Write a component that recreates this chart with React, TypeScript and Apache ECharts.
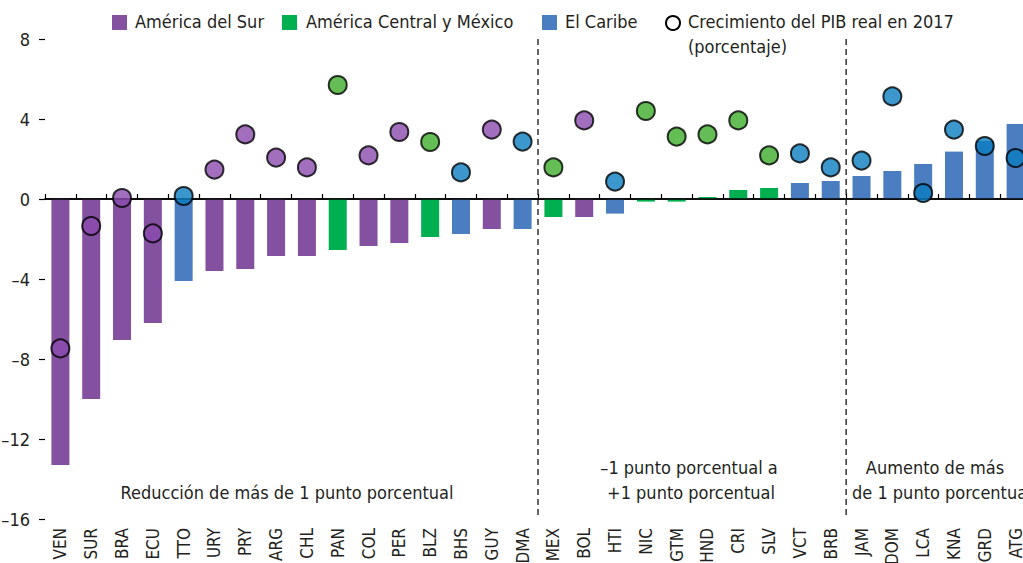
import React, { useEffect, useRef } from "react";
import * as echarts from "echarts";

const categories = ["VEN","SUR","BRA","ECU","TTO","URY","PRY","ARG","CHL","PAN","COL","PER","BLZ","BHS","GUY","DMA","MEX","BOL","HTI","NIC","GTM","HND","CRI","SLV","VCT","BRB","JAM","DOM","LCA","KNA","GRD","ATG"];
// region: S = América del Sur, C = América Central y México, K = El Caribe
const regions = ["S","S","S","S","K","S","S","S","S","C","S","S","C","K","S","K","C","S","K","C","C","C","C","C","K","K","K","K","K","K","K","K"];
const changeValues = [-13.3,-10.0,-7.05,-6.2,-4.1,-3.6,-3.5,-2.85,-2.85,-2.55,-2.35,-2.2,-1.9,-1.75,-1.5,-1.5,-0.9,-0.9,-0.73,-0.13,-0.13,0.1,0.45,0.55,0.8,0.9,1.15,1.4,1.75,2.37,2.9,3.75];
const growth2017 = [-7.47,-1.35,0.05,-1.72,0.15,1.47,3.23,2.07,1.58,5.7,2.18,3.35,2.85,1.33,3.47,2.87,1.58,3.93,0.87,4.4,3.12,3.23,3.93,2.18,2.28,1.58,1.92,5.13,0.3,3.47,2.65,2.05];
const yTicks = [-16, -12, -8, -4, 0, 4, 8];
const legendNames = ["América del Sur", "América Central y México", "El Caribe", "Crecimiento del PIB real en 2017", "(porcentaje)"];
const sectionLabels = ["Reducción de más de 1 punto porcentual", "\u20131 punto porcentual a", "+1 punto porcentual", "Aumento de más", "de 1 punto porcentual"];

const barColors: Record<string, string> = { S: "#8450A0", C: "#00B050", K: "#4A7EC1" };
const dotColors: Record<string, string> = { S: "#8B4BAF", C: "#3DAE2B", K: "#0A7DBF" };
const FONT = "'Liberation Sans Narrow', 'DejaVu Sans Condensed', 'Roboto Condensed', 'Arial Narrow', sans-serif";
const TXT = "#231F20";

export default function App() {
  const ref = useRef<HTMLDivElement>(null);
  useEffect(() => {
    if (!ref.current) return;
    const chart = echarts.init(ref.current, null, { renderer: "svg" });
    const option: any = {
      animation: false,
      textStyle: { fontFamily: FONT, color: TXT },
      grid: { left: 45, right: -8, top: 39, bottom: 44, containLabel: false, outerBoundsMode: "none" },
      xAxis: {
        type: "category",
        data: categories,
        boundaryGap: true,
        axisLine: { show: true, lineStyle: { color: "#000", width: 1.5 } },
        axisTick: { show: true, inside: true, length: 5, interval: 0, lineStyle: { color: "#000", width: 1.2 } },
        axisLabel: { rotate: 90, interval: 0, margin: 9, fontSize: 17, color: TXT, fontFamily: FONT },
        splitLine: { show: false },
      },
      yAxis: {
        type: "value",
        min: -16,
        max: 8,
        interval: 4,
        axisLine: { show: false },
        axisTick: { show: true, length: 6, lineStyle: { color: "#000", width: 1.2 } },
        axisLabel: {
          margin: 15,
          fontSize: 18,
          color: TXT,
          fontFamily: FONT,
          formatter: (v: number) => (yTicks.includes(v) ? (v < 0 ? "\u2013" + Math.abs(v) : String(v)) : ""),
        },
        splitLine: { show: false },
      },
      series: [
        {
          type: "bar",
          name: "Cambio",
          barWidth: 18,
          data: changeValues.map((v, i) => ({ value: v, itemStyle: { color: barColors[regions[i]] } })),
          markLine: {
            silent: true,
            symbol: "none",
            label: { show: false },
            lineStyle: { color: "#000", width: 1.5, type: "solid" },
            data: [{ yAxis: 0 }],
            z: 3,
          },
          z: 2,
        },
        {
          type: "scatter",
          name: legendNames[3],
          symbol: "circle",
          symbolSize: 18,
          data: growth2017.map((v, i) => ({
            value: v,
            itemStyle: { color: dotColors[regions[i]], borderColor: "#000", borderWidth: 2 },
          })),
          z: 5,
        },
      ],
    };
    chart.setOption(option);

    const boundaryX = (i: number) => {
      const a = chart.convertToPixel({ xAxisIndex: 0 }, categories[i - 1]) as number;
      const b = chart.convertToPixel({ xAxisIndex: 0 }, categories[i]) as number;
      return (a + b) / 2;
    };
    const yTop = chart.convertToPixel({ yAxisIndex: 0 }, 8) as number;
    const yBot = chart.convertToPixel({ yAxisIndex: 0 }, -16) as number;
    const x1 = boundaryX(16);
    const x2 = boundaryX(26);

    const legendText = (x: number, y: number, t: string) => ({
      type: "text", left: x, top: y,
      style: { text: t, fontSize: 18, fontFamily: FONT, fill: TXT },
    });
    const secText = (x: number, y: number, t: string, align: string) => ({
      type: "text", x, y,
      style: { text: t, fontSize: 18, fontFamily: FONT, fill: TXT, align, verticalAlign: "middle" },
    });

    chart.setOption({
      graphic: [
        { type: "line", shape: { x1, y1: yTop, x2: x1, y2: yBot }, style: { stroke: "#000", lineWidth: 1.2, lineDash: [6, 4] }, z: 1 },
        { type: "line", shape: { x1: x2, y1: yTop, x2, y2: yBot }, style: { stroke: "#000", lineWidth: 1.2, lineDash: [6, 4] }, z: 1 },
        { type: "rect", shape: { x: 112, y: 15, width: 15, height: 15 }, style: { fill: barColors.S } },
        legendText(135, 12, legendNames[0]),
        { type: "rect", shape: { x: 282, y: 15, width: 15, height: 15 }, style: { fill: barColors.C } },
        legendText(306, 12, legendNames[1]),
        { type: "rect", shape: { x: 542, y: 15, width: 15, height: 15 }, style: { fill: barColors.K } },
        legendText(565, 12, legendNames[2]),
        { type: "circle", shape: { cx: 673, cy: 23, r: 7 }, style: { fill: "#fff", stroke: "#000", lineWidth: 2 } },
        legendText(688, 12, legendNames[3]),
        legendText(688, 37, legendNames[4]),
        secText(287, 492, sectionLabels[0], "center"),
        secText(689, 467, sectionLabels[1], "center"),
        secText(691, 492, sectionLabels[2], "center"),
        secText(935, 467, sectionLabels[3], "center"),
        secText(852, 492, sectionLabels[4], "left"),
      ],
    });

    return () => chart.dispose();
  }, []);
  return <div ref={ref} style={{ width: 1023, height: 563, position: "absolute", left: 0, top: 0 }} />;
}
